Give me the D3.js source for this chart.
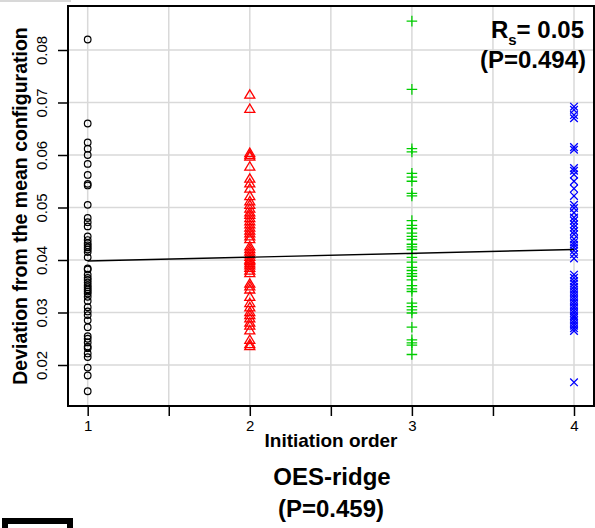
<!DOCTYPE html>
<meta charset="utf-8">
<style>
body { margin: 0; background: #fff; }
text { font-family: "Liberation Sans", Arial, sans-serif; }
</style>
<svg width="595" height="528"></svg>
<script src="https://cdn.jsdelivr.net/npm/d3@7"></script>
<script>
var svg = d3.select("svg");

// deviation values, one array per initiation order
var order1 = [0.0820, 0.0660, 0.0624, 0.0612, 0.0600, 0.0583, 0.0562, 0.0545, 0.0542, 0.0505,
  0.0480, 0.0472, 0.0464, 0.0445, 0.0438, 0.0432, 0.0428, 0.0424, 0.0420, 0.0415, 0.0405,
  0.0384, 0.0382, 0.0372, 0.0366, 0.0362, 0.0357, 0.0352, 0.0348, 0.0344, 0.0340, 0.0336,
  0.0330, 0.0322, 0.0310, 0.0302, 0.0295, 0.0285, 0.0272, 0.0255, 0.0250, 0.0243, 0.0235,
  0.0232, 0.0222, 0.0215, 0.0195, 0.0180, 0.0150];
var order2 = [0.0715, 0.0688, 0.0604, 0.0600, 0.0597, 0.0578, 0.0555, 0.0546, 0.0536, 0.0522,
  0.0512, 0.0505, 0.0498, 0.0491, 0.0486, 0.0480, 0.0474, 0.0468, 0.0462, 0.0456, 0.0451,
  0.0445, 0.0440, 0.0426, 0.0421, 0.0416, 0.0411, 0.0406, 0.0401, 0.0398, 0.0394, 0.0390,
  0.0385, 0.0380, 0.0375, 0.0355, 0.0350, 0.0344, 0.0330, 0.0318, 0.0310, 0.0301, 0.0295,
  0.0289, 0.0281, 0.0275, 0.0266, 0.0248, 0.0240, 0.0236];
var order3 = [0.0855, 0.0725, 0.0612, 0.0606, 0.0565, 0.0558, 0.0550, 0.0527, 0.0522, 0.0475,
  0.0466, 0.0460, 0.0451, 0.0445, 0.0439, 0.0430, 0.0425, 0.0420, 0.0412, 0.0405, 0.0396,
  0.0386, 0.0380, 0.0374, 0.0369, 0.0362, 0.0351, 0.0345, 0.0340, 0.0318, 0.0311, 0.0305,
  0.0299, 0.0272, 0.0248, 0.0242, 0.0238, 0.0220];
var order4 = [0.0692, 0.0686, 0.0676, 0.0670, 0.0615, 0.0610, 0.0575, 0.0570, 0.0563, 0.0550,
  0.0536, 0.0522, 0.0505, 0.0499, 0.0490, 0.0481, 0.0475, 0.0468, 0.0462, 0.0455, 0.0449,
  0.0440, 0.0434, 0.0429, 0.0424, 0.0418, 0.0411, 0.0403, 0.0372, 0.0366, 0.0360, 0.0355,
  0.0349, 0.0344, 0.0339, 0.0334, 0.0329, 0.0324, 0.0319, 0.0314, 0.0309, 0.0304, 0.0299,
  0.0294, 0.0290, 0.0285, 0.0280, 0.0275, 0.0270, 0.0265, 0.0167];

// fitted line end points
var fitX = [1, 4];
var fitY = [0.0398, 0.0420];

var xTicks = [1, 1.5, 2, 2.5, 3, 3.5, 4];
var yTicks = [0.02, 0.03, 0.04, 0.05, 0.06, 0.07, 0.08];

var groups = [
  {order: 1, values: order1, shape: "circle", color: "#000000"},
  {order: 2, values: order2, shape: "triangle", color: "#ff0000"},
  {order: 3, values: order3, shape: "plus", color: "#00cd00"},
  {order: 4, values: order4, shape: "times", color: "#0000ff"}
];

var plotL = 68, plotR = 594, plotT = 6, plotB = 406;

var x = d3.scaleLinear().domain([0.8785, 4.1234]).range([plotL, plotR]);
var y = d3.scaleLinear().domain([0.01219, 0.08838]).range([plotB, plotT]);

// little grey line at the very top left
svg.append("line")
  .attr("x1", 0).attr("x2", 71).attr("y1", 1).attr("y2", 1)
  .attr("stroke", "#d8d8d8").attr("stroke-width", 2);

// grid
var grid = svg.append("g").attr("class", "grid");
grid.selectAll("line.v")
  .data(xTicks)
  .enter().append("line")
  .attr("class", "v")
  .attr("x1", function(d) { return x(d); })
  .attr("x2", function(d) { return x(d); })
  .attr("y1", plotT).attr("y2", plotB)
  .attr("stroke", "#d9d9d9").attr("stroke-width", 1.5);
grid.selectAll("line.h")
  .data(yTicks)
  .enter().append("line")
  .attr("class", "h")
  .attr("y1", function(d) { return y(d); })
  .attr("y2", function(d) { return y(d); })
  .attr("x1", plotL).attr("x2", plotR)
  .attr("stroke", "#d9d9d9").attr("stroke-width", 1.5);

// points
function symbolPath(shape) {
  if (shape === "triangle") return "M0,-4.8L5,3.6L-5,3.6Z";
  if (shape === "plus") return "M-5.3,0H5.3M0,-5.3V5.3";
  if (shape === "times") return "M-3.8,-3.8L3.8,3.8M-3.8,3.8L3.8,-3.8";
  return null;
}

groups.forEach(function(g) {
  var sel = svg.append("g")
    .attr("class", "pts")
    .selectAll("path")
    .data(g.values)
    .enter();
  if (g.shape === "circle") {
    sel.append("circle")
      .attr("cx", x(g.order))
      .attr("cy", function(d) { return y(d); })
      .attr("r", 3.3)
      .attr("fill", "none")
      .attr("stroke", g.color)
      .attr("stroke-width", 1.2);
  } else {
    sel.append("path")
      .attr("transform", function(d) { return "translate(" + x(g.order) + "," + y(d) + ")"; })
      .attr("d", symbolPath(g.shape))
      .attr("fill", "none")
      .attr("stroke", g.color)
      .attr("stroke-width", 1.3);
  }
});

// fitted line
svg.append("path")
  .datum(d3.zip(fitX, fitY))
  .attr("d", d3.line().x(function(d) { return x(d[0]); }).y(function(d) { return y(d[1]); }))
  .attr("fill", "none")
  .attr("stroke", "#000")
  .attr("stroke-width", 1.4);

// axes
var xAxis = svg.append("g")
  .attr("transform", "translate(0," + plotB + ")")
  .call(d3.axisBottom(x).tickValues(xTicks).tickSize(10).tickPadding(4)
    .tickFormat(function(d) { return d % 1 === 0 ? d : ""; }));
xAxis.select(".domain").remove();
xAxis.selectAll("line").attr("stroke-width", 1.5);
xAxis.selectAll("text")
  .style("font-size", "15px").style("font-family", "'Liberation Sans', Arial, sans-serif")
  .attr("fill", "#000");

var yAxis = svg.append("g")
  .attr("transform", "translate(" + plotL + ",0)")
  .call(d3.axisLeft(y).tickValues(yTicks).tickSize(10).tickFormat(d3.format(".2f")));
yAxis.select(".domain").remove();
yAxis.selectAll("line").attr("stroke-width", 1.5);
yAxis.selectAll("text")
  .style("font-size", "15px").style("font-family", "'Liberation Sans', Arial, sans-serif")
  .attr("fill", "#000")
  .attr("x", null).attr("dy", null)
  .attr("text-anchor", "middle")
  .attr("transform", "translate(-21,0) rotate(-90)");

// plot frame
svg.append("rect")
  .attr("x", plotL).attr("y", plotT)
  .attr("width", plotR - plotL).attr("height", plotB - plotT)
  .attr("fill", "none").attr("stroke", "#000").attr("stroke-width", 2);

// axis titles
svg.append("text")
  .attr("x", 331).attr("y", 447)
  .attr("text-anchor", "middle")
  .attr("font-size", 19).attr("font-weight", "bold")
  .text("Initiation order");

svg.append("text")
  .attr("transform", "translate(27," + ((plotT + plotB) / 2) + ") rotate(-90)")
  .attr("text-anchor", "middle")
  .attr("font-size", 19.5).attr("font-weight", "bold")
  .text("Deviation from the mean configuration");

// correlation annotation
var rs = svg.append("text")
  .attr("x", 584).attr("y", 38)
  .attr("text-anchor", "end")
  .attr("font-size", 24).attr("font-weight", "bold");
rs.append("tspan").text("R");
rs.append("tspan").attr("font-size", 15).attr("dy", 7).text("s");
rs.append("tspan").attr("dy", -7).text("= 0.05");

svg.append("text")
  .attr("x", 586).attr("y", 68)
  .attr("text-anchor", "end")
  .attr("font-size", 24).attr("font-weight", "bold")
  .text("(P=0.494)");

// panel title
svg.append("text")
  .attr("x", 332).attr("y", 485)
  .attr("text-anchor", "middle")
  .attr("font-size", 24).attr("font-weight", "bold")
  .text("OES-ridge");

svg.append("text")
  .attr("x", 331).attr("y", 517)
  .attr("text-anchor", "middle")
  .attr("font-size", 24).attr("font-weight", "bold")
  .text("(P=0.459)");

// clipped box at the bottom left
svg.append("rect")
  .attr("x", 5).attr("y", 521)
  .attr("width", 65).attr("height", 20)
  .attr("fill", "none").attr("stroke", "#000").attr("stroke-width", 6);
</script>
